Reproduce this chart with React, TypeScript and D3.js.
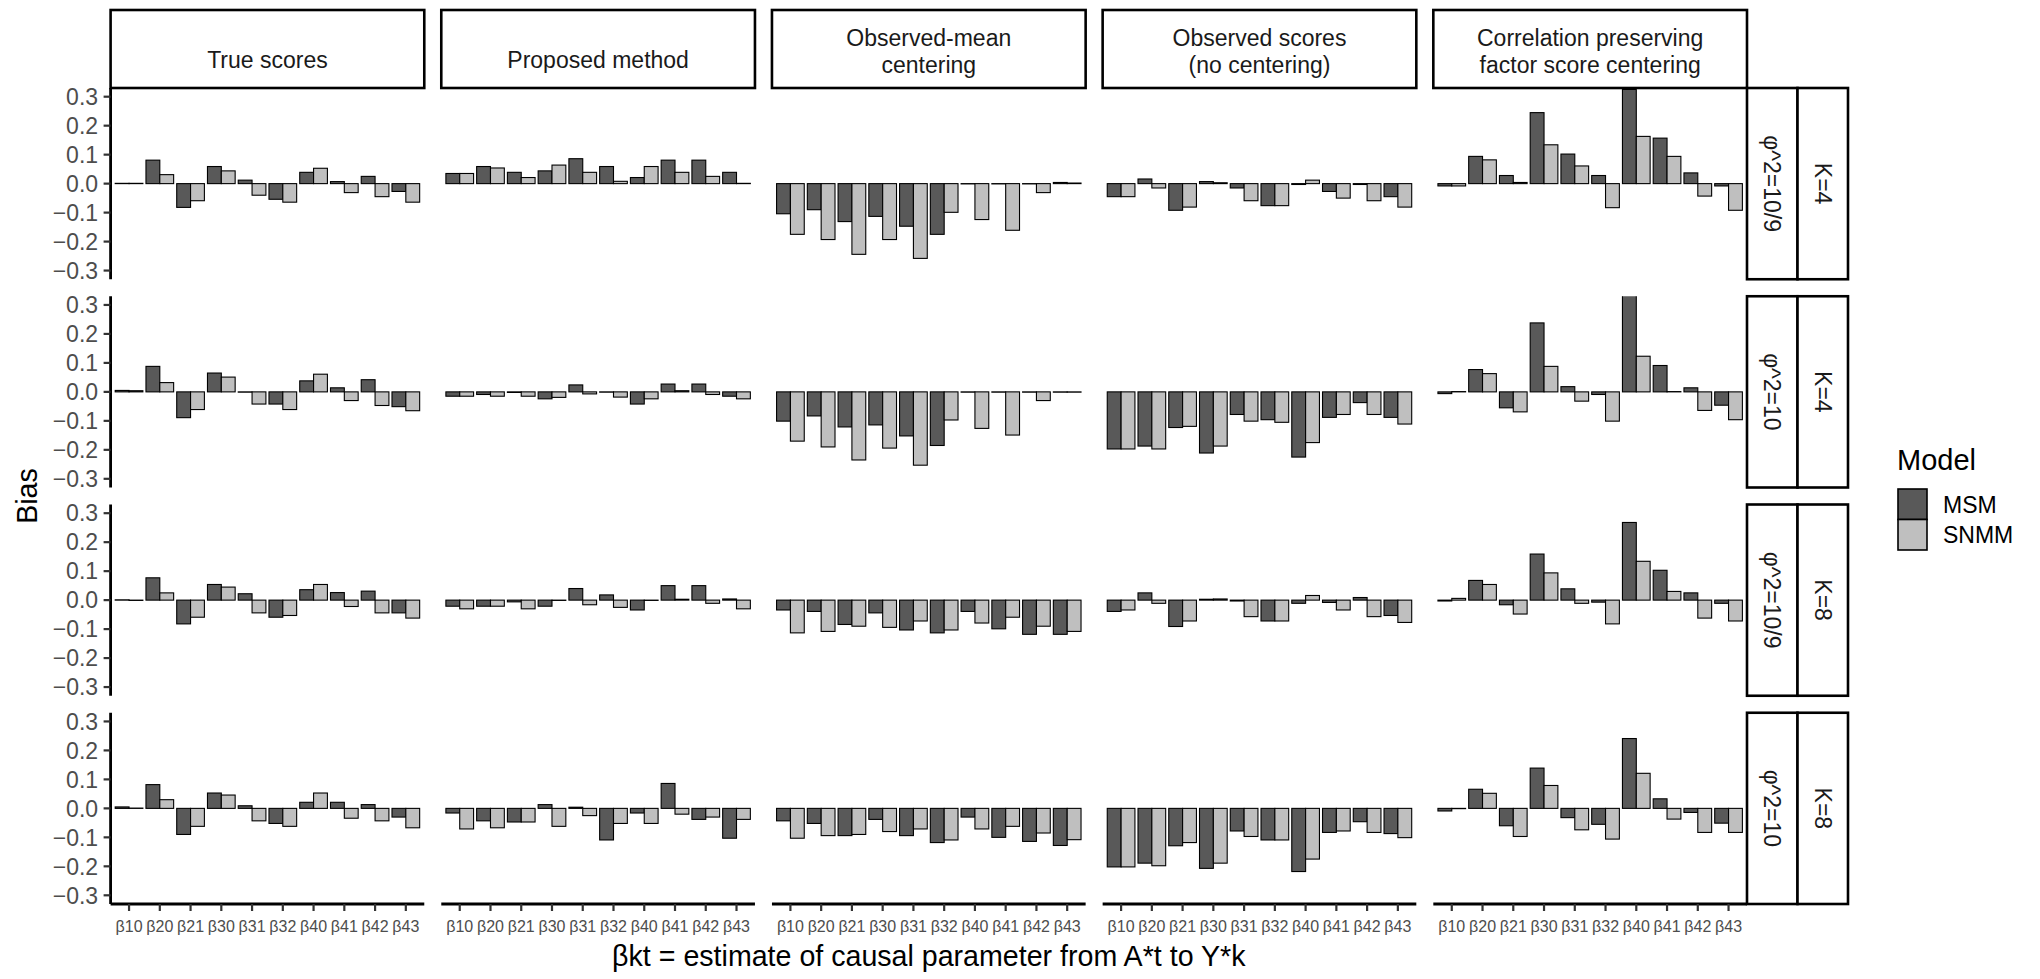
import React from 'react';
import * as d3 from 'd3';

// facets
const methods = [
  ['True scores'],
  ['Proposed method'],
  ['Observed-mean', 'centering'],
  ['Observed scores', '(no centering)'],
  ['Correlation preserving', 'factor score centering'],
];
const phiLabels = ['φ^2=10/9', 'φ^2=10', 'φ^2=10/9', 'φ^2=10'];
const kLabels = ['K=4', 'K=4', 'K=8', 'K=8'];

const categories = ['β10', 'β20', 'β21', 'β30', 'β31', 'β32', 'β40', 'β41', 'β42', 'β43'];
const models = ['MSM', 'SNMM'];
const yTicks = [-0.3, -0.2, -0.1, 0, 0.1, 0.2, 0.3];

// bias per method (rows of 10 = categories), one array per facet row and model
const msmK4Phi109 = [
  [0.001, 0.081, -0.082, 0.059, 0.012, -0.054, 0.039, 0.007, 0.025, -0.027],
  [0.035, 0.059, 0.039, 0.044, 0.086, 0.059, 0.021, 0.081, 0.081, 0.039],
  [-0.104, -0.09, -0.131, -0.113, -0.147, -0.175, -0.001, -0.001, -0.001, 0.004],
  [-0.045, 0.016, -0.092, 0.007, -0.015, -0.076, -0.003, -0.027, -0.003, -0.045],
  [-0.008, 0.094, 0.028, 0.245, 0.102, 0.028, 0.325, 0.157, 0.037, -0.008],
];
const snmmK4Phi109 = [
  [0.001, 0.031, -0.059, 0.044, -0.04, -0.064, 0.053, -0.031, -0.045, -0.064],
  [0.035, 0.054, 0.021, 0.064, 0.039, 0.008, 0.059, 0.039, 0.025, 0.001],
  [-0.175, -0.193, -0.244, -0.193, -0.258, -0.099, -0.124, -0.161, -0.031, 0.002],
  [-0.045, -0.015, -0.081, 0.003, -0.059, -0.076, 0.012, -0.05, -0.059, -0.081],
  [-0.008, 0.082, 0.004, 0.134, 0.061, -0.083, 0.163, 0.094, -0.043, -0.092],
];
const msmK4Phi10 = [
  [0.005, 0.088, -0.089, 0.065, -0.001, -0.042, 0.038, 0.014, 0.042, -0.051],
  [-0.015, -0.009, -0.002, -0.024, 0.024, -0.001, -0.042, 0.027, 0.027, -0.015],
  [-0.101, -0.083, -0.121, -0.114, -0.152, -0.185, -0.001, -0.001, -0.001, -0.001],
  [-0.197, -0.187, -0.123, -0.211, -0.078, -0.096, -0.225, -0.088, -0.037, -0.088],
  [-0.006, 0.077, -0.055, 0.238, 0.018, -0.009, 0.36, 0.091, 0.014, -0.046],
];
const snmmK4Phi10 = [
  [0.004, 0.032, -0.061, 0.051, -0.042, -0.061, 0.061, -0.03, -0.047, -0.065],
  [-0.015, -0.015, -0.015, -0.019, -0.007, -0.018, -0.024, 0.004, -0.009, -0.024],
  [-0.17, -0.19, -0.235, -0.194, -0.253, -0.097, -0.126, -0.149, -0.03, -0.001],
  [-0.197, -0.197, -0.119, -0.187, -0.101, -0.105, -0.175, -0.078, -0.078, -0.111],
  [0.001, 0.063, -0.069, 0.088, -0.032, -0.101, 0.123, 0.001, -0.064, -0.096],
];
const msmK8Phi109 = [
  [0.001, 0.077, -0.082, 0.054, 0.022, -0.059, 0.036, 0.026, 0.031, -0.044],
  [-0.021, -0.021, -0.006, -0.021, 0.04, 0.018, -0.034, 0.05, 0.05, 0.004],
  [-0.034, -0.039, -0.084, -0.044, -0.103, -0.113, -0.039, -0.099, -0.118, -0.118],
  [-0.039, 0.025, -0.091, 0.003, -0.003, -0.072, -0.011, -0.008, 0.009, -0.053],
  [-0.003, 0.068, -0.016, 0.159, 0.039, -0.007, 0.268, 0.103, 0.025, -0.011],
];
const snmmK8Phi109 = [
  [-0.001, 0.025, -0.059, 0.045, -0.044, -0.053, 0.054, -0.022, -0.044, -0.062],
  [-0.03, -0.021, -0.03, -0.001, -0.016, -0.025, -0.001, 0.003, -0.011, -0.03],
  [-0.113, -0.108, -0.09, -0.094, -0.072, -0.103, -0.079, -0.059, -0.09, -0.108],
  [-0.034, -0.011, -0.072, 0.004, -0.057, -0.072, 0.016, -0.034, -0.057, -0.077],
  [0.006, 0.054, -0.048, 0.094, -0.011, -0.082, 0.134, 0.03, -0.062, -0.072],
];
const msmK8Phi10 = [
  [0.005, 0.082, -0.09, 0.053, 0.009, -0.052, 0.021, 0.021, 0.013, -0.03],
  [-0.016, -0.043, -0.047, 0.013, 0.004, -0.109, -0.016, 0.086, -0.038, -0.103],
  [-0.043, -0.052, -0.094, -0.038, -0.094, -0.118, -0.03, -0.1, -0.114, -0.128],
  [-0.202, -0.189, -0.129, -0.207, -0.078, -0.109, -0.218, -0.083, -0.046, -0.087],
  [-0.009, 0.066, -0.06, 0.139, -0.032, -0.055, 0.241, 0.033, -0.014, -0.051],
];
const snmmK8Phi10 = [
  [0.001, 0.03, -0.062, 0.046, -0.043, -0.062, 0.053, -0.034, -0.043, -0.067],
  [-0.071, -0.067, -0.047, -0.062, -0.025, -0.052, -0.052, -0.02, -0.03, -0.038],
  [-0.103, -0.094, -0.09, -0.08, -0.071, -0.109, -0.071, -0.062, -0.085, -0.108],
  [-0.202, -0.198, -0.118, -0.189, -0.097, -0.109, -0.175, -0.078, -0.083, -0.101],
  [-0.001, 0.052, -0.097, 0.079, -0.074, -0.106, 0.121, -0.037, -0.083, -0.083],
];

const msmRows = [msmK4Phi109, msmK4Phi10, msmK8Phi109, msmK8Phi10];
const snmmRows = [snmmK4Phi109, snmmK4Phi10, snmmK8Phi109, snmmK8Phi10];

const fills = { MSM: '#595959', SNMM: '#bfbfbf' };

const FONT = '"Liberation Sans", Arial, Helvetica, sans-serif';

const App = () => {
  const width = 2040;
  const height = 979;

  // panel grid
  const left = 110.6, right = 1747, top = 88, bottom = 904, gap = 17;
  const panelW = (right - left - 4 * gap) / 5;
  const panelH = (bottom - top - 3 * gap) / 4;
  const px = (c) => left + c * (panelW + gap);
  const py = (r) => top + r * (panelH + gap);

  const x = d3.scaleBand().domain(categories).range([0, panelW]).paddingInner(0.1).paddingOuter(0.15);
  const xm = d3.scaleBand().domain(models).range([0, x.bandwidth()]);
  const y = d3.scaleLinear().domain([-0.33, 0.33]).range([panelH, 0]);

  const stripTop = 10;
  const stripW = 50.5;

  return (
    <svg width={width} height={height} style={{ position: 'absolute', left: 0, top: 0, background: '#fff' }} fontFamily={FONT}>
      <defs>
        {d3.range(4).map((r) =>
          d3.range(5).map((c) => (
            <clipPath id={`clip-${r}-${c}`} key={`${r}-${c}`}>
              <rect x={0} y={0} width={panelW} height={panelH} />
            </clipPath>
          ))
        )}
      </defs>

      {/* column strips */}
      {methods.map((lines, c) => (
        <g key={c} transform={`translate(${px(c)},${stripTop})`}>
          <rect x={0} y={0} width={panelW} height={top - stripTop} fill="#fff" stroke="#000" strokeWidth={2.6} />
          {lines.map((t, i) => (
            <text key={i} x={panelW / 2} y={lines.length === 1 ? 58 : 36 + i * 27} textAnchor="middle" fontSize={23} fill="#1a1a1a">{t}</text>
          ))}
        </g>
      ))}

      {/* panels */}
      {d3.range(4).map((r) =>
        d3.range(5).map((c) => (
          <g key={`${r}-${c}`} transform={`translate(${px(c)},${py(r)})`}>
            <g clipPath={`url(#clip-${r}-${c})`}>
              {models.map((m) => {
                const vals = (m === 'MSM' ? msmRows : snmmRows)[r][c];
                return categories.map((cat, i) => {
                  const v = vals[i];
                  return (
                    <rect
                      key={m + cat}
                      x={x(cat) + xm(m)}
                      y={y(Math.max(0, v))}
                      width={xm.bandwidth()}
                      height={Math.abs(y(v) - y(0))}
                      fill={fills[m]}
                      stroke="#000"
                      strokeWidth={1.1}
                    />
                  );
                });
              })}
            </g>
          </g>
        ))
      )}

      {/* y axis on first column */}
      {d3.range(4).map((r) => (
        <g key={r} transform={`translate(${left},${py(r)})`}>
          <line x1={0} x2={0} y1={0} y2={panelH} stroke="#000" strokeWidth={2.8} />
          {yTicks.map((t) => (
            <g key={t} transform={`translate(0,${y(t)})`}>
              <line x1={-7} x2={0} stroke="#333" strokeWidth={2.2} />
              <text x={-12.5} dy="0.36em" textAnchor="end" fontSize={23} fill="#4d4d4d">{d3.format('.1f')(t)}</text>
            </g>
          ))}
        </g>
      ))}

      {/* x axis on bottom row */}
      {d3.range(5).map((c) => (
        <g key={c} transform={`translate(${px(c)},${bottom})`}>
          <line x1={0} x2={panelW} y1={0} y2={0} stroke="#000" strokeWidth={2.8} />
          {categories.map((cat) => (
            <g key={cat} transform={`translate(${x(cat) + x.bandwidth() / 2},0)`}>
              <line y1={0} y2={7} stroke="#333" strokeWidth={2.2} />
              <text y={28} textAnchor="middle" fontSize={16} fill="#4d4d4d">{cat}</text>
            </g>
          ))}
        </g>
      ))}

      {/* row strips */}
      {d3.range(4).map((r) => (
        <g key={r} transform={`translate(${right},${py(r)})`}>
          <rect x={0} y={0} width={stripW} height={panelH} fill="#fff" stroke="#000" strokeWidth={2.6} />
          <text transform={`translate(${stripW / 2 - 8},${panelH / 2}) rotate(90)`} textAnchor="middle" fontSize={23} fill="#1a1a1a">{phiLabels[r]}</text>
          <rect x={stripW} y={0} width={stripW} height={panelH} fill="#fff" stroke="#000" strokeWidth={2.6} />
          <text transform={`translate(${stripW * 1.5 - 8},${panelH / 2}) rotate(90)`} textAnchor="middle" fontSize={23} fill="#1a1a1a">{kLabels[r]}</text>
        </g>
      ))}

      {/* axis titles */}
      <text x={(left + right) / 2} y={966} textAnchor="middle" fontSize={28.6} fill="#000">βkt = estimate of causal parameter from A*t to Y*k</text>
      <text transform={`translate(37,${(top + bottom) / 2}) rotate(-90)`} textAnchor="middle" fontSize={28.6} fill="#000">Bias</text>

      {/* legend */}
      <g transform="translate(1898,0)">
        <text x={-1} y={470} fontSize={29} fill="#000">Model</text>
        {models.map((m, i) => (
          <g key={m} transform={`translate(0,${489 + i * 30.5})`}>
            <rect x={0} y={0} width={29} height={30.5} fill={fills[m]} stroke="#000" strokeWidth={1.6} />
            <text x={45} y={15.5} dy="0.36em" fontSize={23} fill="#000">{m}</text>
          </g>
        ))}
      </g>
    </svg>
  );
};

export default App;
